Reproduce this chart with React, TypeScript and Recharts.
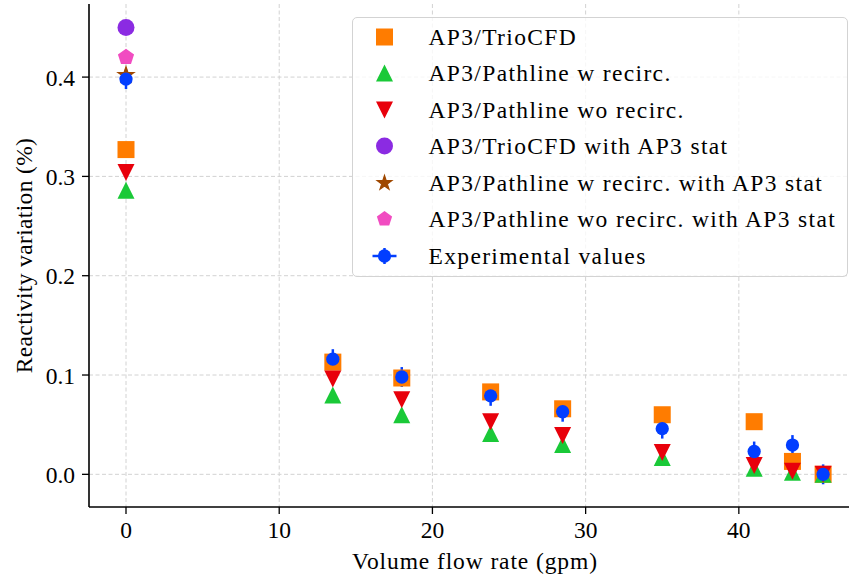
import React from 'react';
import { ScatterChart, Scatter, XAxis, YAxis, CartesianGrid, ErrorBar, Legend } from 'recharts';

// ---- data ----
const flowRate = [0, 13.5, 18.0, 23.8, 28.5, 35.0, 41.0, 43.5, 45.5];
const trioCFD = [0.327, 0.113, 0.097, 0.083, 0.066, 0.060, 0.053, 0.013, 0.0];
const pathlineWRecirc = [0.286, 0.080, 0.060, 0.041, 0.030, 0.017, 0.006, 0.002, 0.0];
const pathlineWoRecirc = [0.304, 0.096, 0.075, 0.053, 0.039, 0.022, 0.009, 0.003, 0.0];
const experimental = [0.398, 0.116, 0.098, 0.079, 0.063, 0.046, 0.023, 0.0295, 0.0];
const experimentalErr = [0.01, 0.01, 0.01, 0.01, 0.01, 0.01, 0.01, 0.01, 0.01];
const statFlowRate = [0];
const trioCFDStat = [0.45];
const pathlineWRecircStat = [0.402];
const pathlineWoRecircStat = [0.42];
const xTicks = [0, 10, 20, 30, 40];
const yTicks = [0, 0.1, 0.2, 0.3, 0.4];

const ORANGE = '#ff7c00';
const GREEN = '#1ac938';
const RED = '#e8000b';
const PURPLE = '#8b2be2';
const BROWN = '#9f4800';
const PINK = '#f14cc1';
const BLUE = '#023eff';

const FONT = '"Liberation Serif", "Times New Roman", serif';

const toPoints = (xs: number[], ys: number[], errs?: number[]) =>
  xs.map((x, i) => (errs ? { x, y: ys[i], err: errs[i] } : { x, y: ys[i] }));

type Kind = 'square' | 'triUp' | 'triDown' | 'circle' | 'star' | 'pentagon' | 'errCircle';

function polyPoints(cx: number, cy: number, n: number, R: number, r?: number) {
  const pts: string[] = [];
  const count = r !== undefined ? n * 2 : n;
  for (let i = 0; i < count; i++) {
    const a = -Math.PI / 2 + (i * 2 * Math.PI) / count;
    const rad = r !== undefined && i % 2 === 1 ? r : R;
    pts.push(`${cx + rad * Math.cos(a)},${cy + rad * Math.sin(a)}`);
  }
  return pts.join(' ');
}

function Marker({ kind, cx, cy, color, size, legend }: { kind: Kind; cx: number; cy: number; color: string; size: number; legend?: boolean }) {
  const h = size / 2;
  switch (kind) {
    case 'square':
      return <rect x={cx - h} y={cy - h} width={size} height={size} fill={color} />;
    case 'triUp':
      return <polygon points={`${cx},${cy - h} ${cx - h},${cy + h} ${cx + h},${cy + h}`} fill={color} />;
    case 'triDown':
      return <polygon points={`${cx},${cy + h} ${cx - h},${cy - h} ${cx + h},${cy - h}`} fill={color} />;
    case 'circle':
      return <circle cx={cx} cy={cy} r={h} fill={color} />;
    case 'star':
      return <polygon points={polyPoints(cx, cy, 5, h - 0.6, (h - 0.6) * 0.381966)} fill={color} stroke={color} strokeWidth={1.2} strokeLinejoin="miter" />;
    case 'pentagon':
      return <polygon points={polyPoints(cx, cy, 5, h)} fill={color} />;
    case 'errCircle':
      return (
        <g>
          {legend && <line x1={cx - 12} x2={cx + 12} y1={cy} y2={cy} stroke={color} strokeWidth={2.5} />}
          {legend && <line x1={cx} x2={cx} y1={cy - 8} y2={cy + 8} stroke={color} strokeWidth={2.5} />}
          <circle cx={cx} cy={cy} r={h} fill={color} />
        </g>
      );
    default:
      return null;
  }
}

const series = [
  { name: 'AP3/TrioCFD', kind: 'square' as Kind, color: ORANGE, size: 17, data: toPoints(flowRate, trioCFD) },
  { name: 'AP3/Pathline w recirc.', kind: 'triUp' as Kind, color: GREEN, size: 17, data: toPoints(flowRate, pathlineWRecirc) },
  { name: 'AP3/Pathline wo recirc.', kind: 'triDown' as Kind, color: RED, size: 17, data: toPoints(flowRate, pathlineWoRecirc) },
  { name: 'AP3/TrioCFD with AP3 stat', kind: 'circle' as Kind, color: PURPLE, size: 17, data: toPoints(statFlowRate, trioCFDStat) },
  { name: 'AP3/Pathline w recirc. with AP3 stat', kind: 'star' as Kind, color: BROWN, size: 18, data: toPoints(statFlowRate, pathlineWRecircStat) },
  { name: 'AP3/Pathline wo recirc. with AP3 stat', kind: 'pentagon' as Kind, color: PINK, size: 17, data: toPoints(statFlowRate, pathlineWoRecircStat) },
  { name: 'Experimental values', kind: 'errCircle' as Kind, color: BLUE, size: 13.3, data: toPoints(flowRate, experimental, experimentalErr) },
];

function LegendBox() {
  return (
    <div
      style={{
        boxSizing: 'border-box',
        width: 496,
        height: 260,
        background: 'rgba(255,255,255,0.8)',
        border: '1.5px solid #d3d3d3',
        borderRadius: 5,
        paddingTop: 0.5,
      }}
    >
      {series.map((s) => (
        <div key={s.name} style={{ display: 'flex', alignItems: 'center', height: 36.5 }}>
          <svg width={75.5} height={36} style={{ flex: '0 0 auto' }}>
            <Marker kind={s.kind} cx={31.5} cy={18} color={s.color} size={s.kind === 'pentagon' ? 16 : s.kind === 'star' ? 16.5 : s.size} legend />
          </svg>
          <span style={{ fontFamily: FONT, fontSize: 23.5, letterSpacing: 1.35, color: '#000', whiteSpace: 'nowrap', lineHeight: '36px' }}>{s.name}</span>
        </div>
      ))}
    </div>
  );
}

const XTick = (props: any) => {
  const { x, y, payload } = props;
  return (
    <text x={x} y={y} dy={17} textAnchor="middle" fill="#000" fontSize={23.5} fontFamily={FONT}>
      {payload.value}
    </text>
  );
};

const YTick = (props: any) => {
  const { x, y, payload } = props;
  return (
    <text x={x} y={y} dy={8.5} textAnchor="end" fill="#000" fontSize={23.5} fontFamily={FONT}>
      {Number(payload.value).toFixed(1)}
    </text>
  );
};

export default function App() {
  return (
    <div style={{ width: 849, height: 576, position: 'relative' }}>
      <style>{'body{margin:0}'}</style>
      <ScatterChart width={849} height={576} margin={{ top: 4, right: 0, bottom: 0, left: 0 }}>
        <CartesianGrid stroke="#d2d2d2" strokeDasharray="4 2.5" strokeWidth={1} syncWithTicks />
        <XAxis
          type="number"
          dataKey="x"
          domain={[-2.415, 47.19]}
          ticks={xTicks}
          allowDataOverflow
          height={69}
          tickSize={7}
          tickMargin={7}
          tickLine={{ stroke: '#000', strokeWidth: 1.3 }}
          axisLine={{ stroke: '#000', strokeWidth: 1.6 }}
          tick={<XTick />}
          label={{ value: 'Volume flow rate (gpm)', position: 'insideBottom', offset: 7, dx: 6, fill: '#000', fontSize: 23.5, fontFamily: FONT, style: { letterSpacing: 0.9 } }}
        />
        <XAxis xAxisId="top" orientation="top" type="number" domain={[0, 1]} height={0} tick={false} tickLine={false} axisLine={{ stroke: '#000', strokeWidth: 1.6 }} />
        <YAxis
          type="number"
          dataKey="y"
          domain={[-0.0329, 0.4736]}
          ticks={yTicks}
          allowDataOverflow
          width={89}
          tickSize={7}
          tickMargin={7}
          tickLine={{ stroke: '#000', strokeWidth: 1.3 }}
          axisLine={{ stroke: '#000', strokeWidth: 1.6 }}
          tick={<YTick />}
          label={{ value: 'Reactivity variation (%)', angle: -90, position: 'insideLeft', offset: 23.5, fill: '#000', fontSize: 23.5, fontFamily: FONT, style: { textAnchor: 'middle', letterSpacing: 0.35 } }}
        />
        <Legend
          layout="vertical"
          verticalAlign="middle"
          align="center"
          content={() => <LegendBox />}
          wrapperStyle={{ position: 'absolute', left: 352, top: 17, width: 496, height: 260 }}
        />
        {series.map((s) => (
          <Scatter
            key={s.name}
            name={s.name}
            data={s.data}
            fill={s.color}
            isAnimationActive={false}
            shape={(p: any) => <Marker kind={s.kind} cx={p.cx} cy={p.cy} color={s.color} size={s.size} />}
          >
            {s.kind === 'errCircle' && (
              <ErrorBar dataKey="err" direction="y" width={0} stroke={BLUE} strokeWidth={2.5} isAnimationActive={false} />
            )}
          </Scatter>
        ))}
      </ScatterChart>
    </div>
  );
}
